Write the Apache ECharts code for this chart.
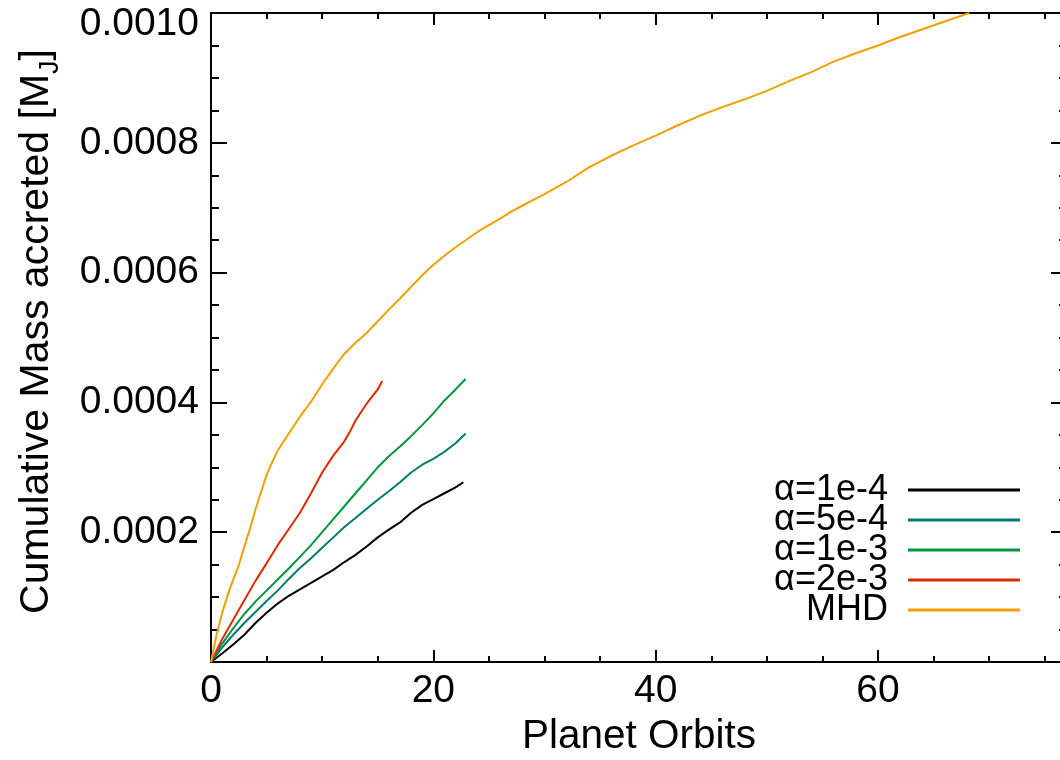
<!DOCTYPE html>
<html>
<head>
<meta charset="utf-8">
<script src="https://cdn.jsdelivr.net/npm/echarts@6/dist/echarts.min.js"></script>
<style>html,body{margin:0;padding:0;background:#fff;}#c{width:1060px;height:760px;}</style>
</head>
<body>
<div id="c"></div>
<script>
// Values: x = planet orbits, y = cumulative mass accreted in units of 1e-4 M_J
var seriesNames = ['α=1e-4', 'α=5e-4', 'α=1e-3', 'α=2e-3', 'MHD'];
var seriesColors = ['#000000', '#007a70', '#009640', '#dd2a00', '#f0a000'];

var alpha1e4 = [[0,0],[1,0.13],[2,0.27],[3,0.42],[4,0.6],[5,0.76],[6,0.9],[7,1.02],[8,1.12],[9,1.22],[10,1.32],[11,1.42],[12,1.54],[13,1.65],[14,1.78],[15,1.92],[16,2.04],[17,2.15],[18,2.3],[19,2.42],[20,2.51],[21,2.6],[22,2.69],[22.7,2.77]];
var alpha5e4 = [[0,0],[1,0.22],[2,0.42],[3,0.6],[4,0.77],[5,0.94],[6,1.1],[7,1.28],[8,1.45],[9,1.6],[10,1.76],[11,1.92],[12,2.08],[13,2.22],[14,2.36],[15,2.5],[16,2.63],[17,2.77],[18,2.92],[19,3.04],[20,3.13],[21,3.24],[22,3.37],[22.9,3.52]];
var alpha1e3 = [[0,0],[1,0.28],[2,0.52],[3,0.74],[4,0.93],[5,1.1],[6,1.27],[7,1.44],[8,1.62],[9,1.8],[10,2.0],[11,2.2],[12,2.4],[13,2.6],[14,2.8],[15,3.0],[16,3.17],[17,3.32],[18,3.48],[19,3.65],[20,3.83],[21,4.03],[22,4.2],[22.9,4.36]];
var alpha2e3 = [[0,0],[1,0.35],[2,0.65],[3,0.95],[4,1.25],[5,1.52],[6,1.8],[7,2.05],[8,2.3],[9,2.6],[10,2.92],[11,3.18],[12,3.4],[12.5,3.55],[13,3.72],[14,3.98],[15,4.2],[15.4,4.33]];
var mhd = [[0,0],[0.5,0.42],[1,0.75],[1.5,1.03],[2,1.27],[2.5,1.49],[3,1.78],[3.5,2.05],[4,2.35],[4.5,2.62],[5,2.88],[5.5,3.08],[6,3.26],[7,3.52],[8,3.78],[9,4.01],[10,4.28],[11,4.52],[12,4.75],[13,4.92],[14,5.07],[15,5.25],[16,5.43],[17,5.6],[18,5.78],[19,5.96],[20,6.12],[21,6.26],[22,6.39],[23,6.51],[24,6.63],[25,6.73],[26,6.83],[27,6.94],[28,7.03],[29,7.12],[30,7.21],[32,7.4],[34,7.62],[36,7.8],[38,7.96],[40,8.11],[42,8.27],[44,8.42],[46,8.55],[48,8.67],[50,8.8],[52,8.95],[54,9.09],[56,9.25],[58,9.38],[60,9.5],[62,9.63],[64,9.75],[66,9.87],[68.2,10.0]];
var seriesData = [alpha1e4, alpha5e4, alpha1e3, alpha2e3, mhd];

var xMin = 0, xMax = 77, xMajor = 20, xMinor = 5;
var yMin = 0, yMax = 10, yMajor = 2, yMinor = 0.5;
var yUnit = 1e-4;
var xTitle = 'Planet Orbits';
var yTitleMain = 'Cumulative Mass accreted [M';
var yTitleSub = 'J';
var yTitleEnd = ']';

var FONT = '"Liberation Sans", Arial, Helvetica, sans-serif';
var chart = echarts.init(document.getElementById('c'), null, {renderer: 'canvas'});

function xAxisDef(pos, interval, len, labels, name) {
  return {
    type: 'value', position: pos, min: xMin, max: xMax, interval: interval,
    axisLine: {show: true, onZero: false, lineStyle: {color: '#000', width: 2}},
    axisTick: {show: true, inside: true, length: len, lineStyle: {color: '#000', width: 2}},
    axisLabel: labels ? {
      show: true, margin: 10, fontSize: 39, color: '#000', fontFamily: FONT,
      showMaxLabel: false,
      formatter: function (v) { return (v % xMajor === 0) ? String(v) : ''; }
    } : {show: false},
    splitLine: {show: false},
    name: name || '', nameLocation: 'middle', nameGap: 44,
    nameTextStyle: {fontSize: 40.5, color: '#000', fontFamily: FONT}
  };
}
function yAxisDef(pos, interval, len, labels, withName) {
  var a = {
    type: 'value', position: pos, min: yMin, max: yMax, interval: interval,
    axisLine: {show: true, onZero: false, lineStyle: {color: '#000', width: 2}},
    axisTick: {show: true, inside: true, length: len, lineStyle: {color: '#000', width: 2}},
    axisLabel: labels ? {
      show: true, margin: 12, fontSize: 39, color: '#000', fontFamily: FONT,
      formatter: function (v) {
        if (v === 0) return '';
        var s = (v * yUnit).toFixed(4);
        return v === yMax ? '{t|' + s + '}' : s;
      },
      rich: {t: {fontSize: 39, fontFamily: FONT, color: '#000', padding: [22, 0, 0, 0]}}
    } : {show: false},
    splitLine: {show: false}
  };
  if (withName) {
    a.name = '{m|' + yTitleMain + '}{s|' + yTitleSub + '}{m|' + yTitleEnd + '}';
    a.nameLocation = 'middle';
    a.nameGap = 147;
    a.nameTextStyle = {
      color: '#000', fontFamily: FONT, padding: [0, 0, 0, 12],
      rich: {
        m: {fontSize: 41, fontFamily: FONT, color: '#000', lineHeight: 54},
        s: {fontSize: 27, fontFamily: FONT, color: '#000', verticalAlign: 'bottom', lineHeight: 27}
      }
    };
  }
  return a;
}

var option = {
  backgroundColor: '#ffffff',
  animation: false,
  grid: {left: 211, top: 13, width: 856, height: 649, containLabel: false, outerBoundsMode: 'none'},
  xAxis: [
    xAxisDef('bottom', xMajor, 12, true, xTitle),
    xAxisDef('bottom', xMinor, 6, false),
    xAxisDef('top', xMajor, 12, false),
    xAxisDef('top', xMinor, 6, false)
  ],
  yAxis: [
    yAxisDef('left', yMajor, 16, true, true),
    yAxisDef('left', yMinor, 8, false, false),
    yAxisDef('right', yMajor, 16, false, false),
    yAxisDef('right', yMinor, 8, false, false)
  ],
  legend: {
    orient: 'vertical', align: 'right', right: 35, top: 467,
    itemWidth: 112, itemHeight: 3, itemGap: -6, icon: 'rect',
    data: seriesNames,
    textStyle: {fontSize: 36, color: '#000', fontFamily: FONT, padding: [0, 15, 0, 0]}
  },
  series: seriesNames.map(function (n, i) {
    return {
      name: n, type: 'line', xAxisIndex: 0, yAxisIndex: 0,
      data: seriesData[i], showSymbol: false, symbol: 'none', smooth: false,
      lineStyle: {color: seriesColors[i], width: 2}, itemStyle: {color: seriesColors[i]},
      z: 2 + i
    };
  })
};
chart.setOption(option);
</script>
</body>
</html>
